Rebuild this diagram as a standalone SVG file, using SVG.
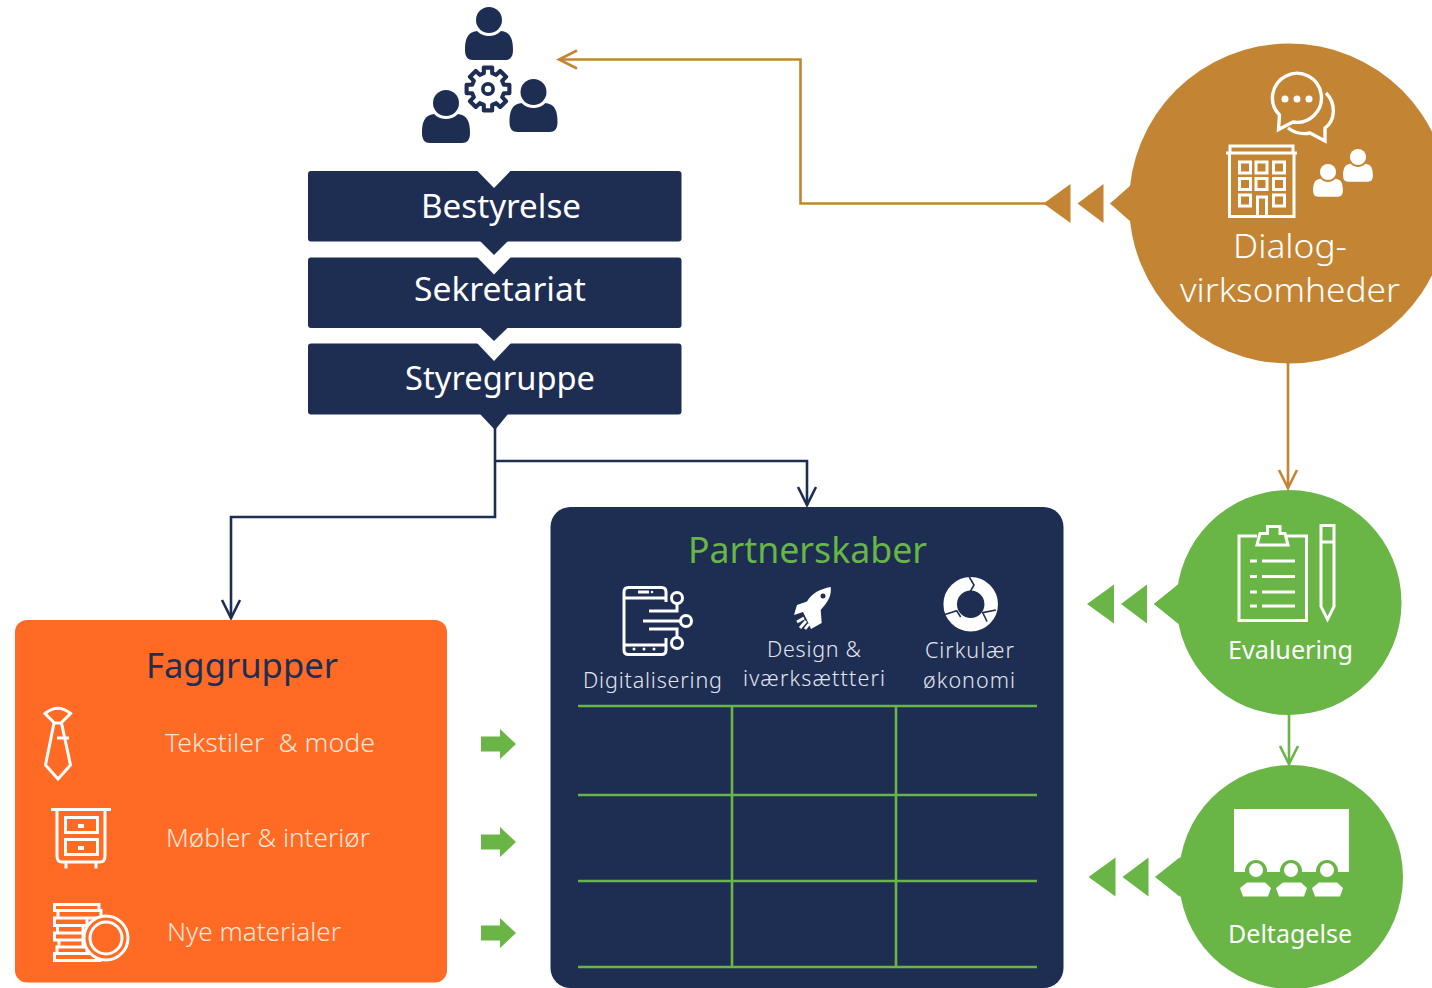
<svg xmlns="http://www.w3.org/2000/svg" xmlns:xlink="http://www.w3.org/1999/xlink" width="1432" height="988" viewBox="0 0 1432 988">
<style>
text{font-family:"Noto Sans","Open Sans","Liberation Sans",sans-serif}
.navy{fill:#1e2d52}.brown{fill:#c38533}.green{fill:#69b545}.white{fill:#fff}
.o{fill:none;stroke:#fff;stroke-width:3}
.box{font-size:33px;fill:#fff}
.fag{font-size:25px;fill:#ffe6d8;font-weight:300}
.par{font-size:21.500px;fill:#e2e5ee;font-weight:300}
.lbl{font-size:25px;fill:#fff}
.conn{fill:none;stroke-width:2.600}
</style>
<defs>
<g id="person"><circle cx="0" cy="0" r="13"/><path d="M-24 30C-24 20-22 12-12 11C-8 15-4 16 0 16C4 16 8 15 12 11C22 12 24 20 24 30C24 37 21 40 16 40L-16 40C-21 40-24 37-24 30Z"/></g>
<marker id="aBrown" markerUnits="userSpaceOnUse" markerWidth="24" markerHeight="24" refX="20" refY="12" orient="auto"><path d="M2 3L20 12L2 21" fill="none" stroke="#c38533" stroke-width="2.600"/></marker>
<marker id="aGreen" markerUnits="userSpaceOnUse" markerWidth="24" markerHeight="24" refX="20" refY="12" orient="auto"><path d="M2 3L20 12L2 21" fill="none" stroke="#69b545" stroke-width="2.600"/></marker>
<marker id="aNavy" markerUnits="userSpaceOnUse" markerWidth="24" markerHeight="24" refX="20" refY="12" orient="auto"><path d="M2 3L20 12L2 21" fill="none" stroke="#1e2d52" stroke-width="2.600"/></marker>
<path id="blockArrow" d="M0-7.500H19V-15L35 0L19 15V7.500H0Z"/>
<path id="dbl" d="M0 0L27-19.500V19.500ZM34 0L60-19.500V19.500ZM67 0L91-19.500V19.500Z"/>
</defs>

<g id="connectors">
<path class="conn" stroke="#c38533" d="M1046 203.500H800.500V59.500H559" marker-end="url(#aBrown)"/>
<path class="conn" stroke="#c38533" d="M1288 360V488" marker-end="url(#aBrown)"/>
<path class="conn" stroke="#69b545" d="M1289 712V764" marker-end="url(#aGreen)"/>
<path class="conn" stroke="#1e2d52" d="M495 425V517H231V618" marker-end="url(#aNavy)"/>
<path class="conn" stroke="#1e2d52" d="M495 461H807V505" marker-end="url(#aNavy)"/>
</g>

<g id="team" class="navy">
<use href="#person" x="489" y="20"/>
<use href="#person" x="446" y="103"/>
<use href="#person" x="533.500" y="92"/>
<g transform="translate(488 89) scale(.93)" fill="none" stroke="#1e2d52" stroke-width="4.400" stroke-linejoin="round">
<path d="M-4.500-17V-23H4.500V-17L8.800-15.200L13.100-19.400L19.400-13.100L15.200-8.800L17-4.500H23V4.500H17L15.200 8.800L19.400 13.100L13.100 19.400L8.800 15.200L4.500 17V23H-4.500V17L-8.800 15.200L-13.100 19.400L-19.400 13.100L-15.200 8.800L-17 4.500H-23V-4.500H-17L-15.200-8.800L-19.400-13.100L-13.100-19.400L-8.800-15.200Z"/>
<circle r="5.500" stroke-width="4"/>
</g>
</g>

<g id="bestyrelse">
<rect class="navy" x="308" y="171" width="373.500" height="70.500" rx="3"/>
<path class="white" d="M477 170.500H511L494 188Z"/>
<path class="navy" d="M480 241H508L494 255Z"/>
<text class="box" x="421" y="218" textLength="160" lengthAdjust="spacingAndGlyphs">Bestyrelse</text>
</g>
<g id="sekretariat">
<rect class="navy" x="308" y="257.500" width="373.500" height="70.500" rx="3"/>
<path class="white" d="M477 257H511L494 274.500Z"/>
<path class="navy" d="M480 327.500H508L494 341Z"/>
<text class="box" x="414" y="301" textLength="172" lengthAdjust="spacingAndGlyphs">Sekretariat</text>
</g>
<g id="styregruppe">
<rect class="navy" x="308" y="343.500" width="373.500" height="71" rx="3"/>
<path class="white" d="M477 343H511L494 361Z"/>
<path class="navy" d="M480 414H508L495 430Z"/>
<text class="box" x="405" y="390" textLength="190" lengthAdjust="spacingAndGlyphs">Styregruppe</text>
</g>

<g id="dialog">
<circle class="brown" cx="1289" cy="203.500" r="160"/>
<use href="#dbl" class="brown" x="1043.500" y="203.500"/>
<path class="brown" d="M1110 203.500L1131 185V222Z"/>
<g class="o" style="stroke-width:3.400">
<path d="M1278.500 129.500L1293 122A24.500 24.500 0 1 0 1279.500 115Z"/>
<path d="M1326 93C1336 103 1336 120 1325 128L1325 141L1310 133C1300 135 1292 131 1288 128"/>
</g>
<g class="white"><circle cx="1285" cy="99" r="3.500"/><circle cx="1297" cy="99" r="3.500"/><circle cx="1309" cy="99" r="3.500"/></g>
<g class="o">
<path d="M1229.500 153V216.500H1294V153M1226 153H1297M1230 153V146H1293V153"/>
<rect x="1239.500" y="162" width="11" height="11"/><rect x="1256" y="162" width="11" height="11"/><rect x="1273.500" y="162" width="11" height="11"/>
<rect x="1239.500" y="178.500" width="11" height="11"/><rect x="1256" y="178.500" width="11" height="11"/><rect x="1273.500" y="178.500" width="11" height="11"/>
<rect x="1239.500" y="195" width="11" height="11"/><rect x="1273.500" y="195" width="11" height="11"/>
<path d="M1257.500 216.500V197H1266.500V216.500"/>
</g>
<g class="white">
<use href="#person" transform="translate(1328 172) scale(.62)"/>
<use href="#person" transform="translate(1358 157) scale(.62)"/>
</g>
<text x="1233" y="258" font-size="33" font-weight="300" fill="#fff" textLength="114" lengthAdjust="spacingAndGlyphs">Dialog-</text>
<text x="1180" y="302" font-size="33" font-weight="300" fill="#fff" textLength="220" lengthAdjust="spacingAndGlyphs">virksomheder</text>
</g>

<g id="evaluering">
<circle class="green" cx="1289" cy="602.500" r="112.500"/>
<use href="#dbl" class="green" x="1087" y="604"/>
<path class="green" d="M1154 604L1179 584V624Z"/>
<g class="o">
<path d="M1257 536H1239V620.500H1306.500V536H1286"/>
<path d="M1257 545L1260 533.500H1267.500V526.500H1280V533.500H1285L1288 545Z"/>
<path d="M1321 525.500H1334V606.500L1327.500 619.500L1321 606.500ZM1321 542H1334"/>
<path d="M1250 561H1257M1262 561H1295M1250 576.500H1257M1262 576.500H1295M1250 592H1257M1262 592H1295M1250 606H1257M1262 606H1295"/>
</g>
<text class="lbl" x="1228" y="659" textLength="125" lengthAdjust="spacingAndGlyphs">Evaluering</text>
</g>

<g id="deltagelse">
<circle class="green" cx="1291" cy="877" r="112"/>
<use href="#dbl" class="green" x="1088.500" y="877"/>
<path class="green" d="M1155 877L1181 857V897Z"/>
<rect class="white" x="1234" y="809" width="115" height="63"/>
<g class="green"><circle cx="1256" cy="871" r="11"/><circle cx="1291" cy="871" r="11"/><circle cx="1327" cy="871" r="11"/></g>
<g class="white">
<circle cx="1256" cy="870" r="7"/><circle cx="1291" cy="870" r="7"/><circle cx="1327" cy="870" r="7"/>
<path d="M1240 888L1247 882.500H1265L1271 888L1268 896.500H1243Z"/>
<path d="M1276 888L1283 882.500H1301L1307 888L1304 896.500H1279Z"/>
<path d="M1312 888L1319 882.500H1337L1343 888L1340 896.500H1315Z"/>
</g>
<text class="lbl" x="1228" y="943" textLength="124" lengthAdjust="spacingAndGlyphs">Deltagelse</text>
</g>

<g id="faggrupper">
<rect x="15" y="620" width="432" height="362.500" rx="12" fill="#ff6b24"/>
<text x="146" y="678" font-size="35" fill="#1e2d52" textLength="192" lengthAdjust="spacingAndGlyphs">Faggrupper</text>
<g class="o">
<path d="M45 713.500Q58 703 70.500 713.500L61 723H54.500Z"/>
<path d="M54 723L45.500 765L58 779L70.500 765L61.500 723M57 738H69"/>
<path d="M51 809.500H111M57 809.500V856Q57 862 62 862H100Q105 862 105 856V809.500"/>
<rect x="65.500" y="817.500" width="32" height="15"/><rect x="65.500" y="839.500" width="32" height="15"/>
<path d="M66 862V868.500M96 862V868.500"/>
<path d="M54.500 904.500H99V910.500H54.500ZM58 910.500H101V918H58ZM54.500 918H87V925.500H54.500ZM57.500 925.500H83V933H57.500ZM54.500 933H83V940H54.500ZM59 940H83V947H59ZM57 947H87V953.500H57ZM54.500 953.500H100V960.500H54.500Z"/>
<circle cx="106" cy="938" r="22" fill="#ff6b24"/><circle cx="106" cy="938" r="16"/>
</g>
<rect class="white" x="78" y="824" width="6" height="4"/><rect class="white" x="78" y="846" width="6" height="4"/>
<text class="fag" x="165" y="752" textLength="210" lengthAdjust="spacingAndGlyphs" xml:space="preserve">Tekstiler  &amp; mode</text>
<text class="fag" x="166" y="847" textLength="204" lengthAdjust="spacingAndGlyphs">Møbler &amp; interiør</text>
<text class="fag" x="167" y="941" textLength="174" lengthAdjust="spacingAndGlyphs">Nye materialer</text>
</g>

<g id="flow-arrows" class="green">
<use href="#blockArrow" x="481" y="744"/>
<use href="#blockArrow" x="481" y="842"/>
<use href="#blockArrow" x="481" y="933"/>
</g>

<g id="partnerskaber">
<rect class="navy" x="550.500" y="507" width="513" height="481" rx="20"/>
<text x="688" y="563" font-size="36" fill="#69b545" textLength="239" lengthAdjust="spacingAndGlyphs">Partnerskaber</text>
<g class="o">
<path d="M666 602V592Q666 587.500 661.500 587.500H628.500Q624 587.500 624 592V650Q624 654.500 628.500 654.500H661.500Q666 654.500 666 650V638M624 598H666M624 645H666"/>
<path d="M649 611H677V604M643 621H680M649 629H677V637"/>
<circle cx="677" cy="598" r="5.500"/><circle cx="686" cy="621" r="5.500"/><circle cx="677" cy="643" r="5.500"/>
<path d="M638 592H649"/>
</g>
<g class="white"><circle cx="652" cy="592" r="1.300"/><circle cx="634" cy="649" r="1.500"/><circle cx="644" cy="649" r="1.500"/><circle cx="654" cy="649" r="1.500"/></g>
<path class="white" d="M830.700 587C820 589 812 593 807 601.500L797 605L794 615L803 612L806 618L811 629L821.700 623L820.700 610C827 603 832 596 830.700 587Z"/>
<circle class="navy" cx="823" cy="596" r="2.500"/>
<path d="M804 618L797 622M806 621L800 628M809 624L805 629" stroke="#fff" stroke-width="2.800" fill="none"/>
<circle cx="970.700" cy="604.300" r="20.500" fill="none" stroke="#fff" stroke-width="13.500"/>
<path d="M969.300 577L974 585L970 592M945 614.500L956.700 610.700L960.700 617M987 621.500L982.700 612.700L996 610" fill="none" stroke="#1e2d52" stroke-width="1.600"/>
<text class="par" x="583" y="687.500" textLength="139" lengthAdjust="spacing">Digitalisering</text>
<text class="par" x="767" y="656.500" textLength="94" lengthAdjust="spacing">Design &amp;</text>
<text class="par" x="743" y="686" textLength="142" lengthAdjust="spacing">iværksættteri</text>
<text class="par" x="925" y="658" textLength="89" lengthAdjust="spacing">Cirkulær</text>
<text class="par" x="923" y="688" textLength="92" lengthAdjust="spacing">økonomi</text>
<path d="M578 706H1037M578 795H1037M578 881H1037M578 967H1037M732 706V967M896 706V967" fill="none" stroke="#69b545" stroke-width="2.600"/>
</g>
</svg>
